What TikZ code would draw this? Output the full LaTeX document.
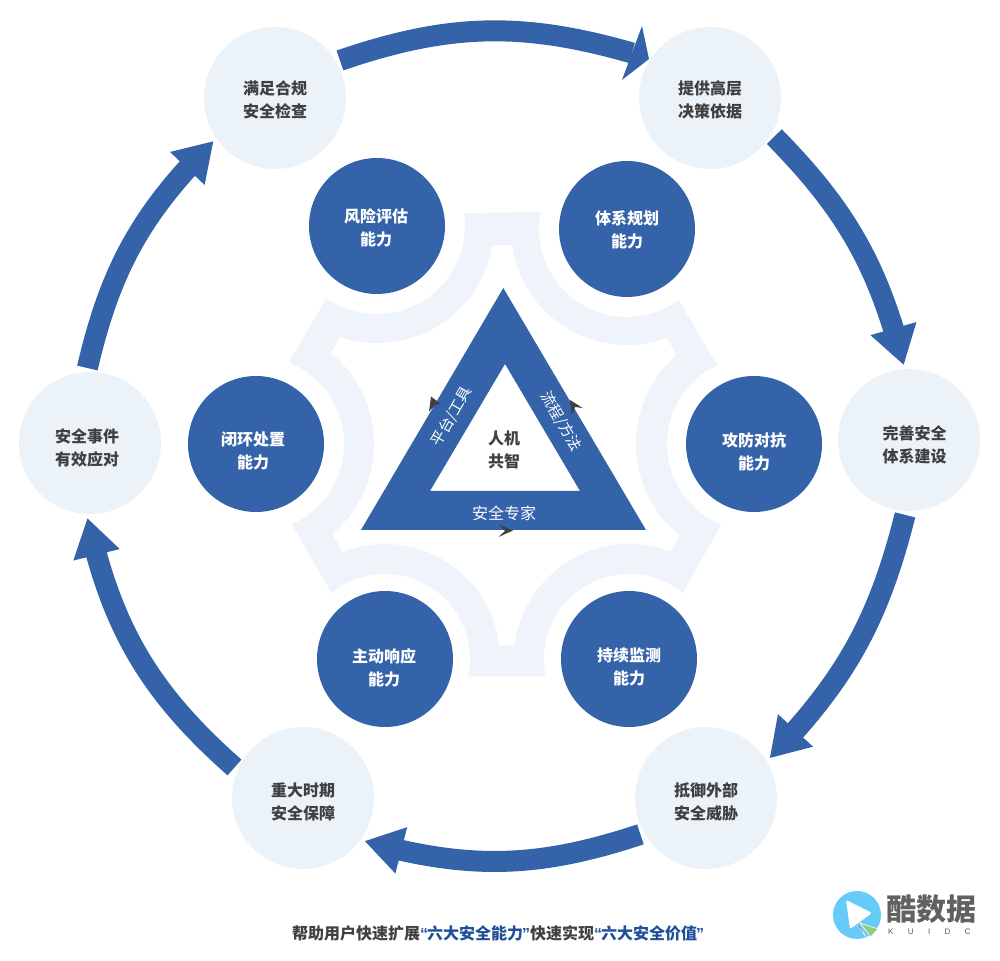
\documentclass[tikz,border=0pt]{standalone}
\usepackage{fontspec}
\setmainfont{Noto Sans CJK SC}
\newfontfamily\quotefont{Liberation Sans}
\newfontfamily\logofont[LetterSpace=180]{Liberation Sans}
\usetikzlibrary{arrows.meta,bending,calc}
\definecolor{ringblue}{HTML}{3463A9}
\definecolor{palefill}{HTML}{EBF2F8}
\definecolor{bandfill}{HTML}{EEF4FA}
\definecolor{inktext}{HTML}{404040}
\definecolor{quoteblue}{HTML}{1F4F97}
\definecolor{logoblue}{HTML}{66CBF8}
\definecolor{logogreen}{HTML}{8FD07F}
\newcommand{\openq}{{\quotefont\color{quoteblue}“\kern-1pt}}
\newcommand{\closeq}{{\quotefont\color{quoteblue}\kern-1pt”}}
\tikzset{
  goalcircle/.style={circle,fill=palefill,minimum size=142pt,inner sep=0pt,outer sep=4pt},
  skillcircle/.style={circle,fill=ringblue,minimum size=136pt,inner sep=0pt},
  darklabel/.style={align=center,text=inktext,font=\fontsize{16}{23}\selectfont\bfseries},
  whitelabel/.style={align=center,text=white,font=\fontsize{16}{23}\selectfont\bfseries},
  sidelabel/.style={text=white,font=\fontsize{15}{20}\selectfont},
  ringarrow/.style={draw=ringblue,line width=21pt,-{Triangle[width=45pt,length=38pt,flex]}},
  seam/.style={draw=white!65!bandfill,line width=0.7pt},
}
\begin{document}
\begin{tikzpicture}[x=1pt,y=1pt]
  \useasboundingbox (0,0) rectangle (1000,960);

  \coordinate (riskc) at (377,734);
  \coordinate (planc) at (627,731);
  \coordinate (attackc) at (754,516);
  \coordinate (watchc) at (629,301);
  \coordinate (respondc) at (385,301);
  \coordinate (closec) at (256,516);

  \fill[bandfill,even odd rule]
    ($(planc)+(169:88pt)$) arc[start angle=169,end angle=306,radius=88pt]
    -- ($(attackc)+(115:87pt)$) arc[start angle=115,end angle=248,radius=87pt]
    -- ($(watchc)+(51:85pt)$) arc[start angle=51,end angle=192,radius=85pt]
    -- ($(respondc)+(-12:85pt)$) arc[start angle=-12,end angle=129,radius=85pt]
    -- ($(closec)+(-66:88pt)$) arc[start angle=-66,end angle=68,radius=88pt]
    -- ($(riskc)+(235:88pt)$) arc[start angle=235,end angle=368.5,radius=88pt]
    -- cycle
    ($(planc)+(188:116pt)$) arc[start angle=188,end angle=290,radius=116pt]
    -- ($(attackc)+(131:118pt)$) arc[start angle=131,end angle=231,radius=118pt]
    -- ($(watchc)+(69:115pt)$) arc[start angle=69,end angle=173,radius=115pt]
    -- ($(respondc)+(6.6:115pt)$) arc[start angle=6.6,end angle=111.6,radius=115pt]
    -- ($(closec)+(-49.6:118pt)$) arc[start angle=-49.6,end angle=50.6,radius=118pt]
    -- ($(riskc)+(251.6:117pt)$) arc[start angle=251.6,end angle=350.6,radius=117pt]
    -- cycle;
  \draw[seam] (306.7,630) -- (333.3,615);
  \draw[seam] (668,617) -- (696.7,628);
  \draw[seam] (311.7,401.7) -- (338.3,416.7);
  \draw[seam] (671.7,417) -- (698,402);

  \node[skillcircle] (risk) at (riskc) {};
  \node[skillcircle] (plan) at (planc) {};
  \node[skillcircle] (attack) at (attackc) {};
  \node[skillcircle] (watch) at (watchc) {};
  \node[skillcircle] (respond) at (respondc) {};
  \node[skillcircle] (closeloop) at (closec) {};
  \node[whitelabel] (risktext) at (376,732.5) {风险评估\\能力};
  \node[whitelabel] (plantext) at (627,730.5) {体系规划\\能力};
  \node[whitelabel] (attacktext) at (754,508.5) {攻防对抗\\能力};
  \node[whitelabel] (watchtext) at (629,293) {持续监测\\能力};
  \node[whitelabel] (respondtext) at (384,292) {主动响应\\能力};
  \node[whitelabel] (closetext) at (253,509) {闭环处置\\能力};

  \node[goalcircle] (comply) at (275,862) {};
  \node[goalcircle] (decide) at (710,862) {};
  \node[goalcircle] (build) at (909,520) {};
  \node[goalcircle] (defend) at (706,162) {};
  \node[goalcircle] (guard) at (303,162) {};
  \node[goalcircle] (incident) at (90,517) {};
  \node[darklabel] (complytext) at (275,860.5) {满足合规\\安全检查};
  \node[darklabel] (decidetext) at (710,860.5) {提供高层\\决策依据};
  \node[darklabel] (buildtext) at (914.5,515.5) {完善安全\\体系建设};
  \node[darklabel] (defendtext) at (706,158) {抵御外部\\安全威胁};
  \node[darklabel] (guardtext) at (303,158) {重大时期\\安全保障};
  \node[darklabel] (incidenttext) at (87,512) {安全事件\\有效应对};

  \coordinate (headbase) at (632,907);
  \draw[ringblue,line width=21pt] (comply.30) to[bend left=17.5] (headbase);
  \fill[ringblue] (642,934) -- (649,901) -- (622,880) -- cycle;
  \draw[ringarrow] (decide.-31) to[bend left=15] (build.94);
  \draw[ringarrow] (build.267) to[bend left=15] (defend.32);
  \draw[ringarrow] (defend.209) to[bend left=17] (guard.325);
  \draw[ringarrow] (guard.156) to[bend left=18] (incident.268);
  \draw[ringarrow] (incident.92) to[bend left=16] (comply.215);

  \fill[ringblue,even odd rule] (503.3,672) -- (646,430) -- (361,430) -- cycle
    (505,596) -- (580,469) -- (430,469) -- cycle;
  \fill[inktext] (513,429.5) -- (499,435.5) -- (505,429) -- (498.5,423) -- cycle;
  \fill[inktext] (431,563.5) -- (440.7,556) -- (435,555) -- (429,548.3) -- cycle;
  \fill[inktext] (570,560) -- (582.7,552) -- (575,553) -- (571.7,545) -- cycle;

  \node[darklabel] (sharedtext) at (504,510) {人机\\共智};
  \node[sidelabel,font=\fontsize{16}{20}\selectfont] (experttext) at (504,447) {安全专家};
  \node[sidelabel,rotate=60] (tooltext) at (451.7,543.3) {平台/工具};
  \node[sidelabel,rotate=-60] (flowtext) at (561,538.3) {流程/方法};

  \node[anchor=center,font=\fontsize{16}{20}\selectfont\bfseries,text=inktext] (summary) at (498,27)
    {帮助用户快速扩展\openq\textcolor{quoteblue}{六大安全能力}\closeq 快速实现\openq\textcolor{quoteblue}{六大安全价值}\closeq};

  \fill[logoblue] (857,45) circle (24pt);
  \fill[white,rounded corners=2pt] (846,60) -- (872,47) -- (850,31) -- cycle;
  \fill[logogreen,draw=white,line width=0.6pt] (860,37) -- (878,31) -- (870.7,23) -- cycle;
  \fill[ringblue!80,draw=white,line width=0.4pt] (857,35) -- (860,35) -- (866,23) -- cycle;
  \node[anchor=west,inner sep=0pt,text=black!62,font=\fontsize{30}{30}\selectfont\bfseries] (logoname) at (886,51) {酷数据};
  \node[anchor=west,inner sep=0pt,text=black!65,font=\fontsize{8}{8}\logofont] (logolatin) at (888,28) {KUIDC};
\end{tikzpicture}
\end{document}
